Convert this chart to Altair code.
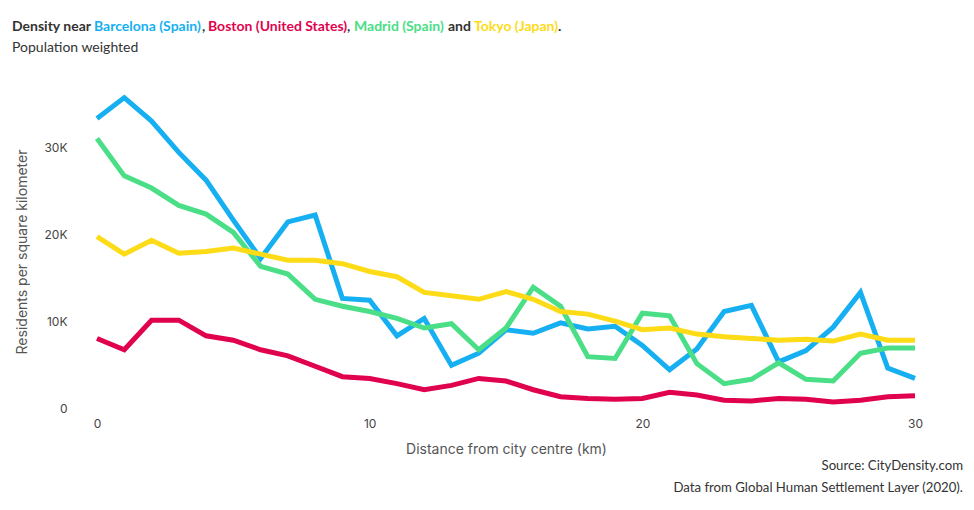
import altair as alt
import pandas as pd

distance_km = list(range(31))

barcelona = [33300, 35700, 33000, 29400, 26200, 21600, 17200, 21400, 22200, 12600,
             12400, 8300, 10300, 4900, 6300, 9000, 8600, 9800, 9100, 9400,
             7200, 4400, 6800, 11100, 11800, 5300, 6600, 9300, 13300, 4600, 3400]
boston = [8000, 6700, 10100, 10100, 8300, 7800, 6700, 6000, 4800, 3600,
          3400, 2800, 2100, 2600, 3400, 3100, 2100, 1300, 1100, 1000,
          1100, 1800, 1500, 900, 800, 1100, 1000, 700, 900, 1300, 1400]
madrid = [31000, 26700, 25300, 23300, 22300, 20200, 16300, 15400, 12500, 11700,
          11100, 10300, 9200, 9700, 6700, 9200, 13900, 11700, 5900, 5700,
          10900, 10600, 5100, 2800, 3300, 5200, 3300, 3100, 6300, 6900, 6900]
tokyo = [19700, 17700, 19300, 17800, 18000, 18400, 17700, 17000, 17000, 16600,
         15700, 15100, 13300, 12900, 12500, 13400, 12500, 11100, 10800, 10000,
         9000, 9200, 8500, 8200, 8000, 7800, 7900, 7700, 8500, 7800, 7800]

cities = ["Barcelona (Spain)", "Boston (United States)", "Madrid (Spain)", "Tokyo (Japan)"]
colors = ["#16B0F2", "#E0024E", "#4ADE86", "#FDDC17"]
x_ticks = [0, 10, 20, 30]
y_ticks = [0, 10000, 20000, 30000]

rows = []
for city, series in zip(cities, [barcelona, boston, madrid, tokyo]):
    for d, v in zip(distance_km, series):
        rows.append({"city": city, "distance": d, "density": v})
df = pd.DataFrame(rows)

W, H = 818, 313

lines = alt.Chart(df).mark_line(strokeWidth=5, strokeJoin="miter", strokeCap="butt").encode(
    x=alt.X("distance:Q", scale=alt.Scale(domain=[0, 30], nice=False),
            axis=alt.Axis(values=x_ticks, title="Distance from city centre (km)",
                          grid=False, domain=False, ticks=False, tickSize=0,
                          labelFlush=False,
                          labelPadding=10, titlePadding=13, labelFontSize=12,
                          titleFontSize=14, titleFontWeight="normal",
                          labelColor="#444444", titleColor="#555555",
                          labelFont="Inter", titleFont="Inter")),
    y=alt.Y("density:Q", scale=alt.Scale(domain=[0, 36000], nice=False),
            axis=alt.Axis(values=y_ticks, title="Residents per square kilometer",
                          labelExpr="datum.value == 0 ? '0' : (datum.value/1000) + 'K'",
                          grid=False, domain=False, ticks=False, tickSize=0,
                          labelFlush=False,
                          labelPadding=30, titlePadding=14, labelFontSize=12,
                          titleFontSize=14, titleFontWeight="normal",
                          labelColor="#444444", titleColor="#555555",
                          labelFont="Inter", titleFont="Inter")),
    color=alt.Color("city:N", scale=alt.Scale(domain=cities, range=colors), legend=None),
    detail="city:N",
)

# Title segments (multi-coloured)
title_segments = [
    ("Density near", -85, "#333333"),
    ("Barcelona (Spain)", -3, colors[0]),
    (",", 105, "#333333"),
    ("Boston (United States)", 111, colors[1]),
    (",", 250, "#333333"),
    ("Madrid (Spain)", 257, colors[2]),
    ("and", 351, "#333333"),
    ("Tokyo (Japan)", 377, colors[3]),
    (".", 461, "#333333"),
]

layers = [lines]
for txt, xpos, col in title_segments:
    layers.append(
        alt.Chart(pd.DataFrame({"t": [txt]})).mark_text(
            align="left", baseline="alphabetic", font="Lato", fontSize=14,
            fontWeight="bold", color=col
        ).encode(text="t:N", x=alt.value(xpos), y=alt.value(-64))
    )

layers.append(
    alt.Chart(pd.DataFrame({"t": ["Population weighted"]})).mark_text(
        align="left", baseline="alphabetic", font="Lato", fontSize=14, color="#333333"
    ).encode(text="t:N", x=alt.value(-85), y=alt.value(-43))
)

source_lines = ["Source: CityDensity.com", "Data from Global Human Settlement Layer (2020)."]
for i, s in enumerate(source_lines):
    layers.append(
        alt.Chart(pd.DataFrame({"t": [s]})).mark_text(
            align="right", baseline="alphabetic", font="Lato", fontSize=13.2, color="#333333"
        ).encode(text="t:N", x=alt.value(866), y=alt.value(375 + 22 * i))
    )

chart = alt.layer(*layers).properties(
    width=W, height=H,
    autosize=alt.AutoSizeParams(type="none"),
    padding={"left": 89, "top": 87, "right": 50, "bottom": 90},
).configure_view(stroke=None)

chart.save("out.html", embed_options={"renderer": "svg", "actions": False})
